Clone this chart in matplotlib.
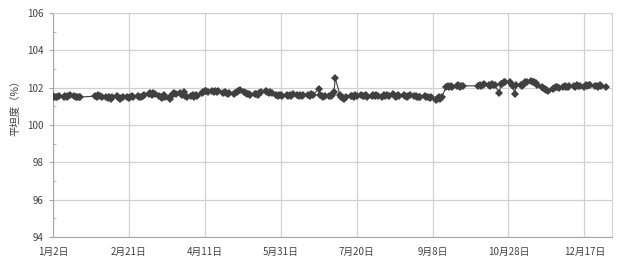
import matplotlib
matplotlib.use('Agg')
import matplotlib.pyplot as plt
import pandas as pd

plt.rcParams['font.family'] = ['Noto Sans CJK SC', 'DejaVu Sans']

# workdays of 2012 that are missing from the record (holidays)
holidays = ['2012-01-23', '2012-01-24', '2012-01-25', '2012-01-26', '2012-01-27',
            '2012-06-22',
            '2012-10-01', '2012-10-02', '2012-10-03', '2012-10-04', '2012-10-05']

jan_vals = [101.55, 101.50, 101.52, 101.48, 101.55, 101.50, 101.58, 101.52, 101.55,
            101.60, 101.55, 101.50, 101.52, 101.48, 101.50, 101.55, 101.52]
feb_vals = [101.60, 101.55, 101.50, 101.52, 101.45, 101.48, 101.42, 101.50, 101.55,
            101.48, 101.40, 101.45, 101.52, 101.50, 101.45, 101.52, 101.55, 101.50,
            101.55, 101.48, 101.52]
mar_vals = [101.55, 101.60, 101.68, 101.72, 101.62, 101.70, 101.65, 101.55, 101.50,
            101.45, 101.60, 101.48, 101.42, 101.55, 101.65, 101.72, 101.68, 101.70,
            101.62, 101.75, 101.58, 101.50]
apr_vals = [101.55, 101.60, 101.52, 101.62, 101.55, 101.70, 101.78, 101.82, 101.80,
            101.75, 101.80, 101.78, 101.82, 101.76, 101.80, 101.72, 101.75, 101.70,
            101.68, 101.72, 101.68]
may_vals = [101.72, 101.75, 101.80, 101.88, 101.78, 101.72, 101.68, 101.65, 101.62,
            101.66, 101.68, 101.62, 101.70, 101.75, 101.80, 101.78, 101.74, 101.76,
            101.70, 101.62, 101.58, 101.62, 101.60]
jun_vals = [101.58, 101.62, 101.55, 101.60, 101.58, 101.65, 101.62, 101.58, 101.60,
            101.55, 101.62, 101.60, 101.58, 101.65, 101.62, 101.92, 101.60, 101.55,
            101.50, 101.58]
jul_vals = [101.58, 101.55, 101.60, 101.78, 102.50, 101.62, 101.52, 101.45, 101.38,
            101.48, 101.55, 101.58, 101.52, 101.60, 101.55, 101.62, 101.58, 101.55,
            101.60, 101.52, 101.58, 101.62]
aug_vals = [101.58, 101.62, 101.55, 101.52, 101.60, 101.58, 101.62, 101.55, 101.65,
            101.58, 101.52, 101.60, 101.55, 101.62, 101.58, 101.50, 101.55, 101.62,
            101.58, 101.55, 101.52, 101.48, 101.50]
sep_vals = [101.55, 101.50, 101.52, 101.45, 101.48, 101.35, 101.40, 101.48, 101.42,
            101.50, 102.05, 102.08, 102.02, 102.10, 102.05, 102.08, 102.12, 102.05,
            102.08, 102.10]
oct_vals = [102.10, 102.15, 102.08, 102.12, 102.18, 102.15, 102.10, 102.20, 102.15,
            102.12, 101.70, 102.18, 102.22, 102.28, 102.32, 102.30, 102.15, 102.10]
nov_vals = [101.65, 102.12, 102.15, 102.10, 102.20, 102.28, 102.30, 102.35, 102.30,
            102.32, 102.25, 102.15, 102.05, 102.00, 101.95, 101.88, 101.85, 101.92,
            101.98, 102.02, 102.05, 102.00]
dec_vals = [102.05, 102.08, 102.02, 102.05, 102.10, 102.08, 102.05, 102.12, 102.08,
            102.10, 102.05, 102.15, 102.10, 102.12, 102.15, 102.10, 102.08, 102.05,
            102.12, 102.08, 102.05]

tick_dates = ['2012-01-02', '2012-02-21', '2012-04-11', '2012-05-31',
              '2012-07-20', '2012-09-08', '2012-10-28', '2012-12-17']
tick_labels = ['1月2日', '2月21日', '4月11日', '5月31日',
               '7月20日', '9月8日', '10月28日', '12月17日']

month_vals = [jan_vals, feb_vals, mar_vals, apr_vals, may_vals, jun_vals,
              jul_vals, aug_vals, sep_vals, oct_vals, nov_vals, dec_vals]

dates = []
values = []
hol = set(pd.to_datetime(holidays))
for m, vals in enumerate(month_vals, start=1):
    start = pd.Timestamp(2012, m, 1)
    days = [d for d in pd.bdate_range(start, start + pd.offsets.MonthEnd(0)) if d not in hol]
    if len(days) != len(vals):
        raise ValueError(f'month {m}: {len(days)} days vs {len(vals)} values')
    dates.extend(days)
    values.extend(vals)

fig = plt.figure(figsize=(6.3, 2.71), dpi=100)
ax = fig.add_axes([0.084, 0.125, 0.887, 0.827])

ax.plot(dates, values, '-', color='#404040', linewidth=0.8,
        marker='D', markersize=3.8, markeredgewidth=0, zorder=3)

ax.set_ylim(94, 106)
ax.set_yticks(range(94, 107, 2))
ax.set_yticks(range(95, 106, 2), minor=True)
x0 = pd.Timestamp('2012-01-02')
ax.set_xlim(x0, x0 + pd.Timedelta(days=368))
ax.set_xticks(pd.to_datetime(tick_dates))
ax.set_xticklabels(tick_labels)

ax.grid(True, which='major', color='#d0d0d0', linewidth=0.9)
ax.set_axisbelow(True)
for side in ['top', 'right']:
    ax.spines[side].set_color('#d0d0d0')
for side in ['left', 'bottom']:
    ax.spines[side].set_color('#a6a6a6')

ax.tick_params(axis='x', length=0, pad=7, labelsize=7, colors='#404040')
ax.tick_params(axis='y', which='major', length=3, pad=4, labelsize=7,
               colors='#404040', color='#a6a6a6')
ax.tick_params(axis='y', which='minor', length=2, direction='in', color='#a6a6a6')

ax.set_ylabel('平坦度（%）', fontsize=7.5, color='#404040')
ax.yaxis.set_label_coords(-0.058, 0.59)

fig.savefig('out.png', dpi=100)
